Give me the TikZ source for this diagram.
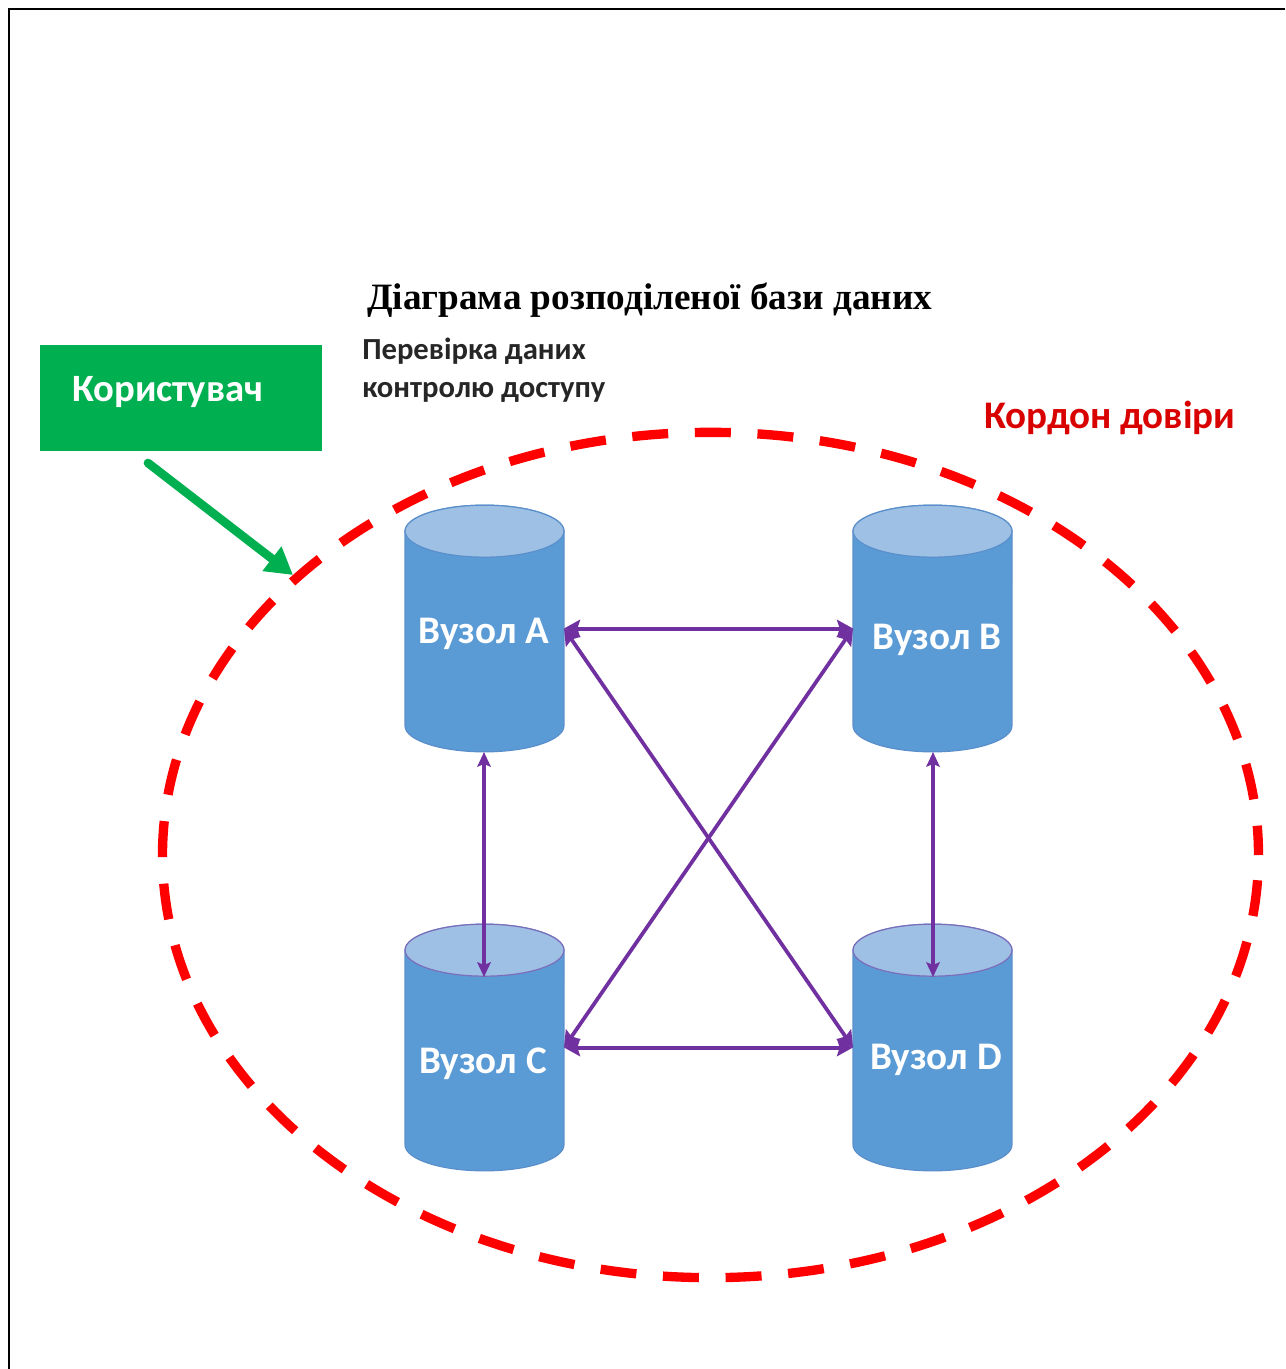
\documentclass[tikz,border=0pt]{standalone}
\usepackage{fontspec}
\setmainfont{Liberation Serif}
\newfontfamily\lblfont{Carlito}
\usetikzlibrary{shapes.geometric,arrows.meta}
\definecolor{dbblue}{HTML}{5B9BD5}
\definecolor{dbtop}{HTML}{9DC0E4}
\definecolor{dbedge}{HTML}{5A8FCB}
\definecolor{dbedgeb}{HTML}{7C6DBB}
\definecolor{lnpurple}{HTML}{7030A0}
\definecolor{usergreen}{HTML}{00B050}
\definecolor{trustred}{HTML}{FF0000}
\tikzset{
  dbnode/.style={rectangle,minimum width=119.25pt,minimum height=185pt,inner sep=0pt,outer sep=0pt},
  dbbody/.style={fill=dbblue,draw=dbedge,line width=0.9pt},
  dbcap/.style={fill=dbtop,line width=0.9pt},
  dblabel/.style={font=\lblfont\bfseries\fontsize{29.3}{32}\selectfont,text=white,anchor=base,inner sep=0pt},
  lnk/.style={draw=lnpurple,line width=3pt,{Stealth[length=12pt,width=13pt,inset=2pt]}-{Stealth[length=12pt,width=13pt,inset=2pt]}},
  lnkd/.style={lnk,line width=2.8pt},
  lnkv/.style={draw=lnpurple,line width=2.4pt,{Stealth[length=11pt,width=10pt,inset=2pt]}-{Stealth[length=11pt,width=10pt,inset=2pt]}},
  darklabel/.style={font=\lblfont\bfseries\fontsize{23}{26}\selectfont,text=black!85,anchor=base west,inner sep=0pt},
}
\newcommand{\dbcylinder}[2]{%
  \draw[dbbody] ([yshift=-19.5pt]#1.north west) -- ([yshift=19.5pt]#1.south west)
     arc[start angle=180,end angle=360,x radius=59.6pt,y radius=19.5pt]
     -- ([yshift=-19.5pt]#1.north east)
     arc[start angle=0,end angle=180,x radius=59.6pt,y radius=19.5pt] -- cycle;
  \draw[dbcap,draw=#2] ([yshift=-19.5pt]#1.north) ellipse[x radius=59.6pt,y radius=19.5pt];
}
\begin{document}
\begin{tikzpicture}[x=0.75pt,y=-0.75pt]
\useasboundingbox (0,0) rectangle (1285,1369);
\fill[white] (0,0) rectangle (1285,1369);
% page frame
\coordinate (fa) at (8.5,1369);
\coordinate (fb) at (8.5,9);
\coordinate (fc) at (1285,9);
\draw[black,line width=1.5pt] (fa) -- (fb) -- (fc);
% trust boundary
\begin{scope}
\clip (0,0) rectangle (1263,1282);
\node[ellipse,draw=trustred,line width=7pt,dash pattern=on 27pt off 20pt,dash phase=5pt,
  minimum width=822pt,minimum height=634pt,inner sep=0pt] (boundary) at (710.5,855) {};
\end{scope}
% user
\node[fill=usergreen,minimum width=211.5pt,minimum height=79.5pt,inner sep=0pt] (user) at (181,397.5) {};
\node[font=\lblfont\bfseries\fontsize{29}{32}\selectfont,text=white,anchor=base west,inner sep=0pt] (userlabel) at (72,401) {Користувач};
\coordinate (arrowstart) at (148,463);
\coordinate (arrowend) at (293,575);
\draw[usergreen,line width=6.5pt,line cap=round,-{Triangle[length=20pt,width=22pt]}] (arrowstart) -- (arrowend);
% cylinders
\node[dbnode] (A) at (484.5,628.5) {};
\node[dbnode] (B) at (932.5,628.5) {};
\node[dbnode] (C) at (484.5,1047.5) {};
\node[dbnode] (D) at (932.5,1047.5) {};
\dbcylinder{A}{dbedge}
\dbcylinder{B}{dbedge}
\dbcylinder{C}{dbedgeb}
\dbcylinder{D}{dbedgeb}
\node[dblabel] (la) at (484,643) {Вузол A};
\node[dblabel] (lb) at (937,649) {Вузол B};
\node[dblabel] (lc) at (483,1073) {Вузол C};
\node[dblabel] (ld) at (936,1069) {Вузол D};
% links
\coordinate (ctop) at (484,977);
\coordinate (dtop) at (933,977);
\coordinate (abot) at (484,752);
\coordinate (bbot) at (933,752);
\draw[lnk] (A.east) -- (B.west);
\draw[lnk] (C.east) -- (D.west);
\draw[lnkd] (A.east) -- (D.west);
\draw[lnkd] (C.east) -- (B.west);
\draw[lnkv] (abot) -- (ctop);
\draw[lnkv] (bbot) -- (dtop);
% texts
\node[anchor=base west,inner sep=0pt,font=\bfseries\fontsize{27.9}{32}\selectfont] (title) at (367,310) {Діаграма розподіленої бази даних};
\node[darklabel] (chk1) at (362,359) {Перевірка даних};
\node[darklabel] (chk2) at (362,397) {контролю доступу};
\node[font=\lblfont\bfseries\fontsize{29.3}{32}\selectfont,text=red!85!black,anchor=base west,inner sep=0pt] (trust) at (984,428) {Кордон довіри};
\end{tikzpicture}
\end{document}
